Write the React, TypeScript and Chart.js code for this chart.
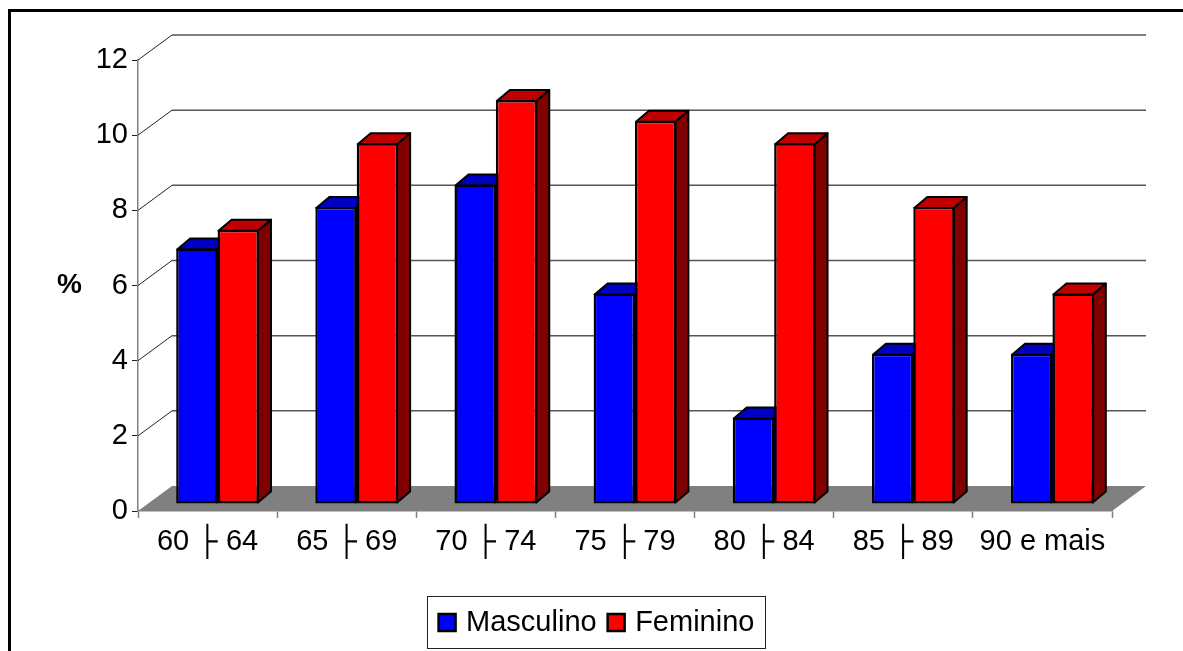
import React, { useEffect, useRef } from "react";
import { Chart, registerables } from "chart.js";

Chart.register(...registerables);

const categories = ["60 ├ 64", "65 ├ 69", "70 ├ 74", "75 ├ 79", "80 ├ 84", "85 ├ 89", "90 e mais"];
const masculino = [6.8, 7.9, 8.5, 5.6, 2.3, 4.0, 4.0];
const feminino = [7.3, 9.6, 10.75, 10.2, 9.6, 7.9, 5.6];
const yAxisLabel = "%";

const FONT = '"Liberation Sans", Arial, sans-serif';
const WALL_DX = 34;
const WALL_DY = -25;
const BAR_SHIFT_X = 10;
const BAR_SHIFT_Y = -7;
const BAR_DX = 13;
const BAR_DY = -11;
const topColors = ["#0000c0", "#c00000"];
const sideColors = ["#000080", "#800000"];

function poly(ctx: CanvasRenderingContext2D, pts: number[][], fill: string) {
  ctx.beginPath();
  pts.forEach((p, i) => (i ? ctx.lineTo(p[0], p[1]) : ctx.moveTo(p[0], p[1])));
  ctx.closePath();
  ctx.fillStyle = fill;
  ctx.fill();
  ctx.strokeStyle = "#000";
  ctx.lineWidth = 2;
  ctx.lineJoin = "round";
  ctx.stroke();
}

const scene3d = {
  id: "scene3d",
  beforeDatasetsDraw(chart: any) {
    const { ctx, chartArea: a, scales } = chart;
    const y = scales.y;
    ctx.save();
    // floor
    const y0 = y.getPixelForValue(0);
    ctx.beginPath();
    ctx.moveTo(a.left, y0);
    ctx.lineTo(a.left + WALL_DX, y0 + WALL_DY);
    ctx.lineTo(a.right + WALL_DX, y0 + WALL_DY);
    ctx.lineTo(a.right, y0);
    ctx.closePath();
    ctx.fillStyle = "#808080";
    ctx.fill();
    // wall gridlines
    y.ticks.forEach((t: any) => {
      if (t.value === 0) return;
      const py = y.getPixelForValue(t.value);
      ctx.beginPath();
      ctx.moveTo(a.left, py);
      ctx.lineTo(a.left + WALL_DX, py + WALL_DY);
      ctx.strokeStyle = "#222";
      ctx.lineWidth = 1;
      ctx.stroke();
      ctx.beginPath();
      ctx.moveTo(a.left + WALL_DX, py + WALL_DY);
      ctx.lineTo(a.right + WALL_DX, py + WALL_DY);
      ctx.strokeStyle = "#555";
      ctx.lineWidth = 1.5;
      ctx.stroke();
    });
    // bar depth faces
    chart.data.datasets.forEach((_: any, d: number) => {
      chart.getDatasetMeta(d).data.forEach((bar: any) => {
        const l = bar.x - bar.width / 2 + BAR_SHIFT_X + 1;
        const r = bar.x + bar.width / 2 + BAR_SHIFT_X - 1;
        const t = bar.y + BAR_SHIFT_Y + 1;
        const b = bar.base + BAR_SHIFT_Y - 1;
        poly(ctx, [[r, t], [r + BAR_DX, t + BAR_DY], [r + BAR_DX, b + BAR_DY], [r, b]], sideColors[d]);
        poly(ctx, [[l, t], [l + BAR_DX, t + BAR_DY], [r + BAR_DX, t + BAR_DY], [r, t]], topColors[d]);
      });
    });
    ctx.restore();
  },
  beforeDatasetDraw(chart: any) {
    chart.ctx.save();
    chart.ctx.translate(BAR_SHIFT_X, BAR_SHIFT_Y);
  },
  afterDatasetDraw(chart: any) {
    chart.ctx.restore();
  },
  afterDraw(chart: any) {
    const { ctx, scales } = chart;
    ctx.save();
    // outer frame (left and top edges)
    ctx.fillStyle = "#000";
    ctx.fillRect(8, 9, 1175, 3);
    ctx.fillRect(8, 9, 3, 642);
    // legend frame
    const boxes = chart.legend.legendHitBoxes;
    const first = boxes[0];
    const last = boxes[boxes.length - 1];
    ctx.strokeStyle = "#222";
    ctx.lineWidth = 1;
    ctx.strokeRect(
      Math.round(first.left - 16) + 0.5,
      596.5,
      Math.round(last.left + last.width + 10 - (first.left - 16)),
      52
    );
    // value-axis label, horizontal
    ctx.fillStyle = "#000";
    ctx.font = `bold 28px ${FONT}`;
    ctx.textAlign = "center";
    ctx.textBaseline = "middle";
    ctx.fillText(yAxisLabel, 69.5, (scales.y.top + scales.y.bottom) / 2 - 0.5);
    ctx.restore();
  },
};

export default function App() {
  const ref = useRef<HTMLCanvasElement>(null);
  useEffect(() => {
    const chart = new Chart(ref.current as HTMLCanvasElement, {
      type: "bar",
      data: {
        labels: categories,
        datasets: [
          { label: "Masculino", data: masculino, backgroundColor: "#0000ff", borderColor: "#000", borderWidth: 2.5, borderSkipped: false, clip: false },
          { label: "Feminino", data: feminino, backgroundColor: "#ff0000", borderColor: "#000", borderWidth: 2.5, borderSkipped: false, clip: false },
        ] as any,
      },
      options: {
        animation: false,
        responsive: false,
        categoryPercentage: 0.595,
        barPercentage: 1,
        layout: { padding: { left: 85, right: 71, top: 60, bottom: 4 } },
        plugins: {
          tooltip: { enabled: false },
          title: { display: false },
          legend: {
            position: "bottom",
            labels: {
              usePointStyle: true,
              pointStyle: "rect",
              boxWidth: 9,
              boxHeight: 17,
              padding: 15,
              color: "#000",
              font: { family: FONT, size: 29 },
            },
          },
        },
        scales: {
          x: {
            offset: true,
            grid: { offset: true, drawOnChartArea: false, color: "#808080", tickLength: 7, tickWidth: 1.5, z: 1 },
            border: { color: "#808080", width: 1.5, z: 1 },
            ticks: { color: "#000", maxRotation: 0, minRotation: 0, autoSkip: false, padding: 7, font: { family: FONT, size: 29 } },
            afterFit: (s: any) => { s.height = 82; },
          },
          y: {
            min: 0,
            max: 12,
            grid: { drawOnChartArea: false, color: "#222", tickLength: 6, tickWidth: 1 },
            border: { color: "#808080", width: 1.5 },
            ticks: { stepSize: 2, color: "#000", padding: 4, font: { family: FONT, size: 29 } },
            afterFit: (s: any) => { s.width = 53; },
          },
        },
      } as any,
      plugins: [scene3d],
    });
    return () => chart.destroy();
  }, []);
  return (
    <canvas
      ref={ref}
      width={1183}
      height={651}
      style={{ position: "absolute", left: 0, top: 0, display: "block", background: "#fff" }}
    />
  );
}
